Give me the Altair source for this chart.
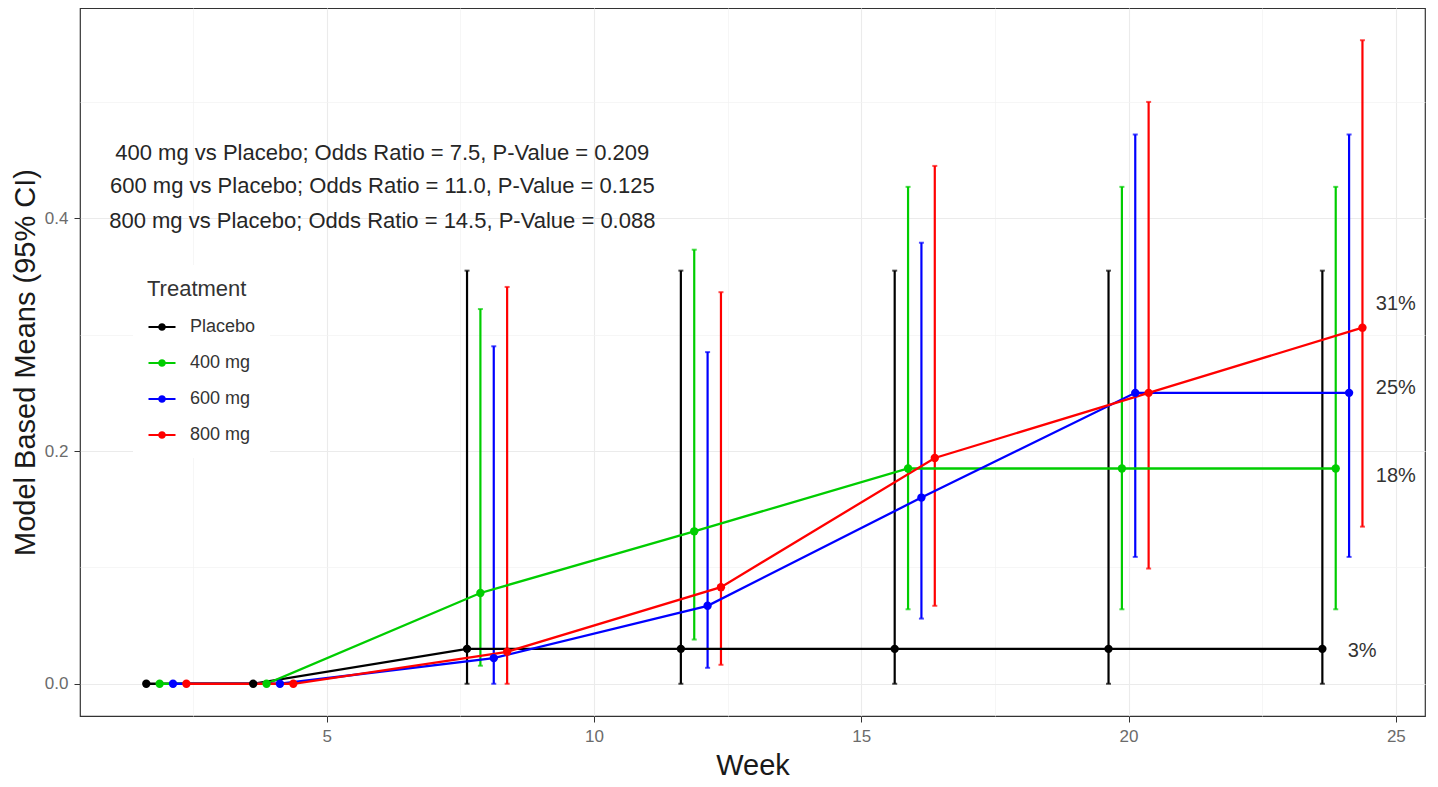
import altair as alt
import pandas as pd

weeks = [2, 4, 8, 12, 16, 20, 24]
treatments = ["Placebo", "400 mg", "600 mg", "800 mg"]
colors = ["#000000", "#00CD00", "#0000FF", "#FF0000"]

placebo_mean = [0.0, 0.0, 0.030, 0.030, 0.030, 0.030, 0.030]
placebo_lo = [None, None, 0.0, 0.0, 0.0, 0.0, 0.0]
placebo_hi = [None, None, 0.355, 0.355, 0.355, 0.355, 0.355]

mg400_mean = [0.0, 0.0, 0.078, 0.131, 0.185, 0.185, 0.185]
mg400_lo = [None, None, 0.0155, 0.038, 0.064, 0.064, 0.064]
mg400_hi = [None, None, 0.322, 0.373, 0.427, 0.427, 0.427]

mg600_mean = [0.0, 0.0, 0.022, 0.067, 0.160, 0.250, 0.250]
mg600_lo = [None, None, 0.0, 0.0137, 0.056, 0.109, 0.109]
mg600_hi = [None, None, 0.290, 0.285, 0.379, 0.472, 0.472]

mg800_mean = [0.0, 0.0, 0.0275, 0.083, 0.194, 0.250, 0.306]
mg800_lo = [None, None, 0.0, 0.0163, 0.067, 0.099, 0.135]
mg800_hi = [None, None, 0.341, 0.3365, 0.445, 0.500, 0.553]

pct_labels = ["3%", "18%", "25%", "31%"]
pct_x = [24.37, 25.0, 25.0, 25.0]
pct_y = [0.028, 0.1785, 0.254, 0.326]

ann_lines = [
    "400 mg vs Placebo; Odds Ratio = 7.5, P-Value = 0.209",
    "600 mg vs Placebo; Odds Ratio = 11.0, P-Value = 0.125",
    "800 mg vs Placebo; Odds Ratio = 14.5, P-Value = 0.088",
]
ann_x = [6.04, 6.04, 6.04]
ann_y = [0.456, 0.4275, 0.398]

rows = []
for t, m, lo, hi in zip(
    treatments,
    [placebo_mean, mg400_mean, mg600_mean, mg800_mean],
    [placebo_lo, mg400_lo, mg600_lo, mg800_lo],
    [placebo_hi, mg400_hi, mg600_hi, mg800_hi],
):
    for w, mv, l, h in zip(weeks, m, lo, hi):
        rows.append({"Treatment": t, "Week": w, "Mean": mv, "Lower": l, "Upper": h})
df = pd.DataFrame(rows)
pct_df = pd.DataFrame({"label": pct_labels, "px": pct_x, "py": pct_y})
ann_df = pd.DataFrame({"text": ann_lines, "ax": ann_x, "ay": ann_y})

FONT = "Liberation Sans"
xscale = alt.Scale(domain=[0.385, 25.545], nice=False, zero=False)
yscale = alt.Scale(domain=[-0.0277, 0.5807], nice=False, zero=False)
cscale = alt.Scale(domain=treatments, range=colors)

major_x = alt.Axis(values=[5, 10, 15, 20, 25], format="d", orient="bottom",
                   grid=True, gridColor="#EBEBEB", gridWidth=1.1,
                   domain=False, ticks=True, tickColor="#333333", tickSize=6, tickWidth=1,
                   labelFontSize=17, labelColor="#6b6b6b", labelPadding=6,
                   titleFontSize=29, titleFontWeight="normal", titleColor="#1a1a1a", titlePadding=7)
major_y = alt.Axis(values=[0, 0.2, 0.4], format=".1f", orient="left",
                   grid=True, gridColor="#EBEBEB", gridWidth=1.1,
                   domain=False, ticks=True, tickColor="#333333", tickSize=6, tickWidth=1,
                   labelFontSize=17, labelColor="#6b6b6b", labelPadding=6,
                   titleFontSize=29, titleFontWeight="normal", titleColor="#1a1a1a", titlePadding=4)
minor_x = alt.Axis(values=[2.5, 7.5, 12.5, 17.5, 22.5], orient="top", grid=True,
                   gridColor="#F2F2F2", gridWidth=0.7, labels=False, ticks=False,
                   domain=False, title=None)
minor_y = alt.Axis(values=[0.1, 0.3, 0.5], orient="right", grid=True,
                   gridColor="#F2F2F2", gridWidth=0.7, labels=False, ticks=False,
                   domain=False, title=None)

sym_path = ("M-1,0L1,0"
            "M-0.2,0A0.2,0.2,0,1,1,0.2,0A0.2,0.2,0,1,1,-0.2,0"
            "M-0.08,0A0.08,0.08,0,1,1,0.08,0A0.08,0.08,0,1,1,-0.08,0")
legend = alt.Legend(
    title="Treatment", orient="none", legendX=53, legendY=257,
    symbolType=sym_path, symbolSize=729, symbolStrokeWidth=2.2,
    fillColor="white", padding=14, rowPadding=12, labelOffset=13,
    titleFontSize=22, titleFontWeight="normal", titleColor="#333333",
    titlePadding=11, labelFontSize=18, labelColor="#333333",
)
color = alt.Color("Treatment:N", scale=cscale, legend=legend)

order_list = "['" + "','".join(treatments) + "']"
base = alt.Chart(df).transform_calculate(
    xpos=f"datum.Week + (indexof({order_list}, datum.Treatment) - 1.5) * 0.25"
)

XT = "Week"
YT = "Model Based Means (95% CI)"

def X(field, axis=None):
    return alt.X(field, scale=xscale, axis=axis, title=XT)

def Y(field, axis=None):
    return alt.Y(field, scale=yscale, axis=axis, title=YT)

grid_layer = base.mark_point(opacity=0).encode(
    x=X("xpos:Q", minor_x), y=Y("Mean:Q", minor_y), color=color,
)
with_ci = base.transform_filter("isValid(datum.Lower)")
bars = with_ci.mark_rule(strokeWidth=2.2).encode(
    x=X("xpos:Q"), y=Y("Lower:Q"), y2="Upper:Q", color=color,
)
caps_lo = with_ci.mark_tick(orient="horizontal", size=5, thickness=2).encode(
    x=X("xpos:Q"), y=Y("Lower:Q"), color=color,
)
caps_hi = with_ci.mark_tick(orient="horizontal", size=5, thickness=2).encode(
    x=X("xpos:Q"), y=Y("Upper:Q"), color=color,
)
lines = base.mark_line(strokeWidth=2.3).encode(
    x=X("xpos:Q"), y=Y("Mean:Q"), color=color, order="Week:Q",
)
points = base.mark_circle(size=70, opacity=1).encode(
    x=X("xpos:Q", major_x), y=Y("Mean:Q", major_y), color=color,
)

pct = alt.Chart(pct_df).mark_text(fontSize=20, color="#333333", align="center",
                                  baseline="middle").encode(
    x=X("px:Q"), y=Y("py:Q"), text="label:N",
)
ann = alt.Chart(ann_df).mark_text(fontSize=22, color="#262626", align="center",
                                  baseline="middle").encode(
    x=X("ax:Q"), y=Y("ay:Q"), text="text:N",
)

chart = alt.layer(grid_layer, bars, caps_lo, caps_hi, lines, points, pct, ann).resolve_axis(
    x="independent", y="independent"
).properties(
    width=1345, height=708,
    padding={"left": 3, "top": 0, "right": 5, "bottom": 5},
).configure(font=FONT).configure_view(stroke="#333333", strokeWidth=1.2)

chart.save("out.html", embed_options={"renderer": "svg", "actions": False})
